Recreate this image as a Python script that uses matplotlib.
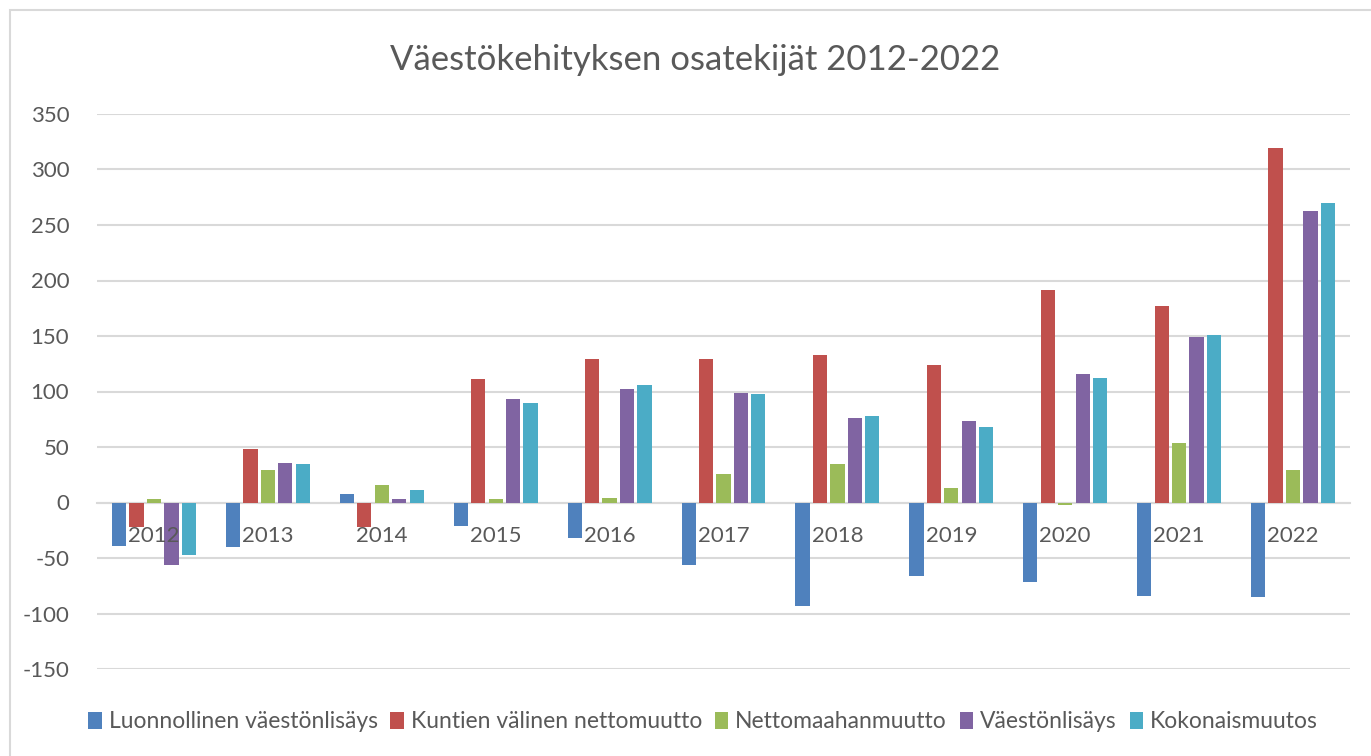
"""Väestökehityksen osatekijät 2012-2022 -- grouped bar chart."""

import matplotlib.pyplot as plt
import numpy as np
from matplotlib.patches import Rectangle

years = ["2012", "2013", "2014", "2015", "2016", "2017",
         "2018", "2019", "2020", "2021", "2022"]
luonnollinen = [-39, -40, 8, -21, -32, -56, -93, -66, -72, -84, -85]
kuntien_valinen = [-22, 48, -22, 111, 129, 129, 133, 124, 191, 177, 319]
nettomaahanmuutto = [3, 29, 16, 3, 4, 26, 35, 13, -2, 54, 29]
vaestonlisays = [-56, 36, 3, 93, 102, 99, 76, 73, 116, 149, 263]
kokonaismuutos = [-47, 35, 11, 90, 106, 98, 78, 68, 112, 151, 270]

series = {
    "Luonnollinen väestönlisäys": luonnollinen,
    "Kuntien välinen nettomuutto": kuntien_valinen,
    "Nettomaahanmuutto": nettomaahanmuutto,
    "Väestönlisäys": vaestonlisays,
    "Kokonaismuutos": kokonaismuutos,
}
colors = ["#4F81BD", "#C0504D", "#9BBB59", "#8064A2", "#4BACC6"]

plt.rcParams["font.family"] = ["Lato", "DejaVu Sans"]
plt.rcParams["axes.unicode_minus"] = False
text_color = "#595959"

fig = plt.figure(figsize=(13.71, 7.56), dpi=100)
ax = fig.add_axes([97 / 1371, 1 - 669 / 756, 1253 / 1371, 555 / 756])

x = np.arange(len(years))
step = 0.153
width = 0.125
for i, ((name, values), color) in enumerate(zip(series.items(), colors)):
    ax.bar(x + (i - 2) * step, values, width=width, color=color, label=name, zorder=3)

ax.set_xlim(-0.5, len(years) - 0.5)
ax.set_ylim(-150, 350)
ax.set_yticks(np.arange(-150, 351, 50))
ax.grid(axis="y", color="#d9d9d9", linewidth=1.5, zorder=0)
for side in ["top", "right", "left"]:
    ax.spines[side].set_visible(False)
ax.spines["bottom"].set_position(("data", 0))
ax.spines["bottom"].set_color("#d9d9d9")
ax.spines["bottom"].set_linewidth(1.5)
ax.set_xticks(x)
ax.set_xticklabels([])
ax.tick_params(axis="x", length=0)
ax.tick_params(axis="y", length=0, pad=20, labelsize=16, labelcolor=text_color)

# category labels sit on top of the bars, just under the zero line
for xi, year in zip(x, years):
    ax.annotate(year, (xi, 0), xytext=(0, -33), textcoords="offset pixels",
                ha="center", va="center", fontsize=16, color=text_color, zorder=5)

fig.text(0.507, 1 - 60 / 756, "Väestökehityksen osatekijät 2012-2022",
         ha="center", va="center", fontsize=25, color=text_color)

fig.legend(loc="center", bbox_to_anchor=(703 / 1371, 1 - 722 / 756), ncol=5,
           frameon=False, fontsize=16.5, handlelength=0.6, handleheight=0.8,
           handletextpad=0.3, columnspacing=0.55, labelcolor=text_color)

fig.patches.append(Rectangle((10 / 1371, -0.1), 1.5, 1.1 - 10 / 756,
                             transform=fig.transFigure, fill=False,
                             edgecolor="#d9d9d9", linewidth=1.5))

fig.savefig("out.png", dpi=100)
